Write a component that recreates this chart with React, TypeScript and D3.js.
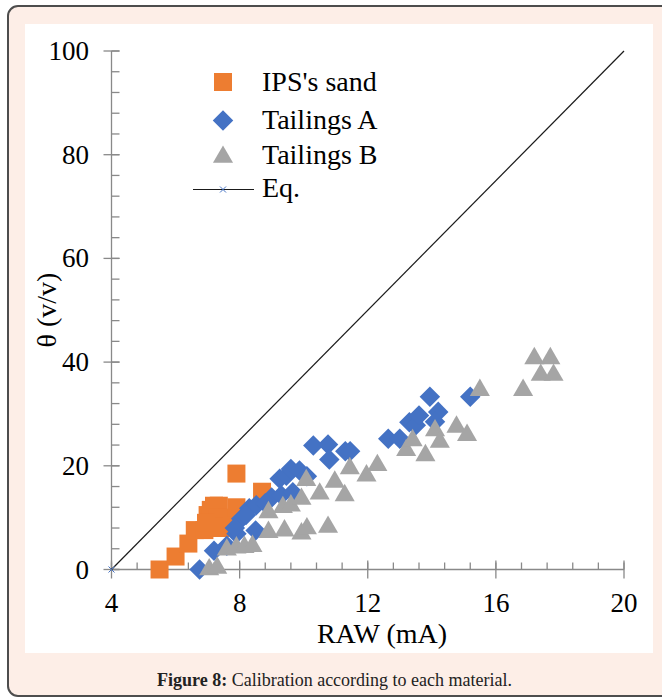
import React from "react";
import { scaleLinear, symbol, symbolSquare, symbolTriangle, range } from "d3";

// RAW (mA), theta (v/v)
const ipsSand: [number, number][] = [
  [5.5, 0], [6.0, 2.5], [6.4, 5], [6.6, 7.6], [6.9, 7.6], [7.0, 10.5], [7.1, 11.5],
  [7.2, 12.3], [7.35, 12.3], [7.3, 10], [7.4, 8], [7.6, 10], [7.9, 12], [7.9, 18.5],
  [8.7, 15], [7.2, 8.3], [6.95, 9],
];
const tailingsA: [number, number][] = [
  [6.75, 0], [7.2, 3.6], [7.6, 4.6], [7.9, 6.9], [8.5, 7.5], [8.05, 9.8], [8.3, 11.8],
  [8.52, 12.4], [9.0, 13.9], [9.3, 14.3], [9.66, 14.9], [9.25, 17.5], [9.46, 18.1],
  [9.6, 19.4], [9.87, 19.1], [10.1, 18], [10.3, 23.9], [10.76, 24.1], [10.8, 21.2],
  [11.3, 22.8], [11.45, 22.8], [12.64, 25.2], [13.0, 25.2], [13.3, 28.4], [13.5, 27.8],
  [13.6, 29.7], [13.94, 33.3], [14.2, 30.4], [14.1, 28.5], [15.2, 33.3], [8.2, 10.5],
  [8.8, 12.8], [7.85, 8],
];
const tailingsB: [number, number][] = [
  [7.05, 0], [7.3, 0.3], [7.6, 3.8], [7.9, 4.2], [8.15, 4.3], [8.4, 4.5], [8.9, 7.2],
  [9.4, 7.5], [9.93, 6.9], [10.1, 7.9], [10.76, 8.2], [8.9, 11], [9.35, 12], [9.6, 12.3],
  [9.93, 13.6], [10.08, 17.2], [10.5, 14.6], [10.97, 16.9], [11.28, 14.3], [11.44, 19.5],
  [11.96, 18.1], [12.3, 20.1], [13.2, 23], [13.4, 24.9], [13.8, 22], [14.1, 26.8],
  [14.25, 24.6], [14.77, 27.5], [15.1, 25.9], [15.5, 34.6], [16.85, 34.6], [17.2, 40.7],
  [17.7, 40.7], [17.4, 37.5], [17.8, 37.5],
];
const eqLine: [number, number][] = [[4, 0], [20, 100]];

const xTicks = [4, 8, 12, 16, 20];
const yTicks = [0, 20, 40, 60, 80, 100];

const legendNames = ["IPS's sand", "Tailings A", "Tailings B", "Eq."];

const colors = { orange: "#ED7D31", blue: "#4472C4", gray: "#A5A5A5", axis: "#898989" };
const font = "'Liberation Serif', 'Times New Roman', serif";

const App = () => {
  const x = scaleLinear().domain([4, 20]).range([111.5, 624]);
  const y = scaleLinear().domain([0, 100]).range([569.5, 51]);

  const square = symbol().type(symbolSquare).size(18 * 18)();
  const diamond = symbol().type(symbolSquare).size(14.5 * 14.5)();
  const triangle = symbol().type(symbolTriangle).size(175)();

  const xMinor = range(4, 20.01, 0.8);
  const yMinor = range(0, 100.01, 4);

  const cross = (cx: number, cy: number, key?: string) => (
    <g key={key} stroke={colors.blue} strokeWidth={1}>
      <line x1={cx - 3} y1={cy - 3} x2={cx + 3} y2={cy + 3} />
      <line x1={cx - 3} y1={cy + 3} x2={cx + 3} y2={cy - 3} />
    </g>
  );

  return (
    <svg width={662} height={698} style={{ position: "absolute", left: 0, top: 0 }} fontFamily={font}>
      <rect x={8} y={6} width={680} height={690} rx={10} fill="#FDEEE7" stroke="#4d4d4d" strokeWidth={2} />
      <rect x={25} y={24} width={628} height={629} fill="#fff" />

      {/* axes */}
      <g stroke={colors.axis} strokeWidth={1.3}>
        <line x1={x(4)} x2={x(4)} y1={y(100)} y2={y(0)} />
        <line x1={x(4)} x2={x(20)} y1={y(0)} y2={y(0)} />
        {yMinor.map(v => (
          <line key={"ym" + v} x1={x(4)} x2={x(4) + 8} y1={y(v)} y2={y(v)} />
        ))}
        {yTicks.map(v => (
          <line key={"yM" + v} x1={x(4) - 8} x2={x(4) + 8} y1={y(v)} y2={y(v)} />
        ))}
        {xMinor.map(v => (
          <line key={"xm" + v} x1={x(v)} x2={x(v)} y1={y(0)} y2={y(0) - 7} />
        ))}
        {xTicks.map(v => (
          <line key={"xM" + v} x1={x(v)} x2={x(v)} y1={y(0) - 9} y2={y(0) + 9} />
        ))}
      </g>

      {yTicks.map(v => (
        <text key={"yl" + v} x={89} y={y(v) + 9} fontSize={27} textAnchor="end">{v}</text>
      ))}
      {xTicks.map(v => (
        <text key={"xl" + v} x={x(v)} y={612} fontSize={27} textAnchor="middle">{v}</text>
      ))}

      <text x={382} y={643} fontSize={28} textAnchor="middle">RAW (mA)</text>
      <text transform="translate(56,310) rotate(-90)" fontSize={28} textAnchor="middle">θ (v/v)</text>

      {/* series */}
      {ipsSand.map((d, i) => (
        <path key={"s" + i} d={square} transform={`translate(${x(d[0])},${y(d[1])})`} fill={colors.orange} />
      ))}
      {tailingsA.map((d, i) => (
        <path key={"a" + i} d={diamond} transform={`translate(${x(d[0])},${y(d[1])}) rotate(45)`} fill={colors.blue} />
      ))}
      {tailingsB.map((d, i) => (
        <path key={"b" + i} d={triangle} transform={`translate(${x(d[0])},${y(d[1])})`} fill={colors.gray} />
      ))}
      <line x1={x(eqLine[0][0])} y1={y(eqLine[0][1])} x2={x(eqLine[1][0])} y2={y(eqLine[1][1])} stroke="#1a1a1a" strokeWidth={1.2} />
      {cross(x(eqLine[0][0]), y(eqLine[0][1]))}

      {/* legend */}
      <g>
        <path d={square} transform="translate(223,82)" fill={colors.orange} />
        <path d={diamond} transform="translate(223,120.5) rotate(45)" fill={colors.blue} />
        <path d={triangle} transform="translate(223,157)" fill={colors.gray} />
        <line x1={193} x2={254} y1={189.5} y2={189.5} stroke="#1a1a1a" strokeWidth={1.2} />
        {cross(223, 189.5)}
        {legendNames.map((n, i) => (
          <text key={n} x={262} y={[91, 128.5, 163.5, 197][i]} fontSize={28}>{n}</text>
        ))}
      </g>

      <text x={157} y={686} fontSize={18} fill="#222">
        <tspan fontWeight="bold">Figure 8:</tspan> Calibration according to each material.
      </text>
    </svg>
  );
};

export default App;
